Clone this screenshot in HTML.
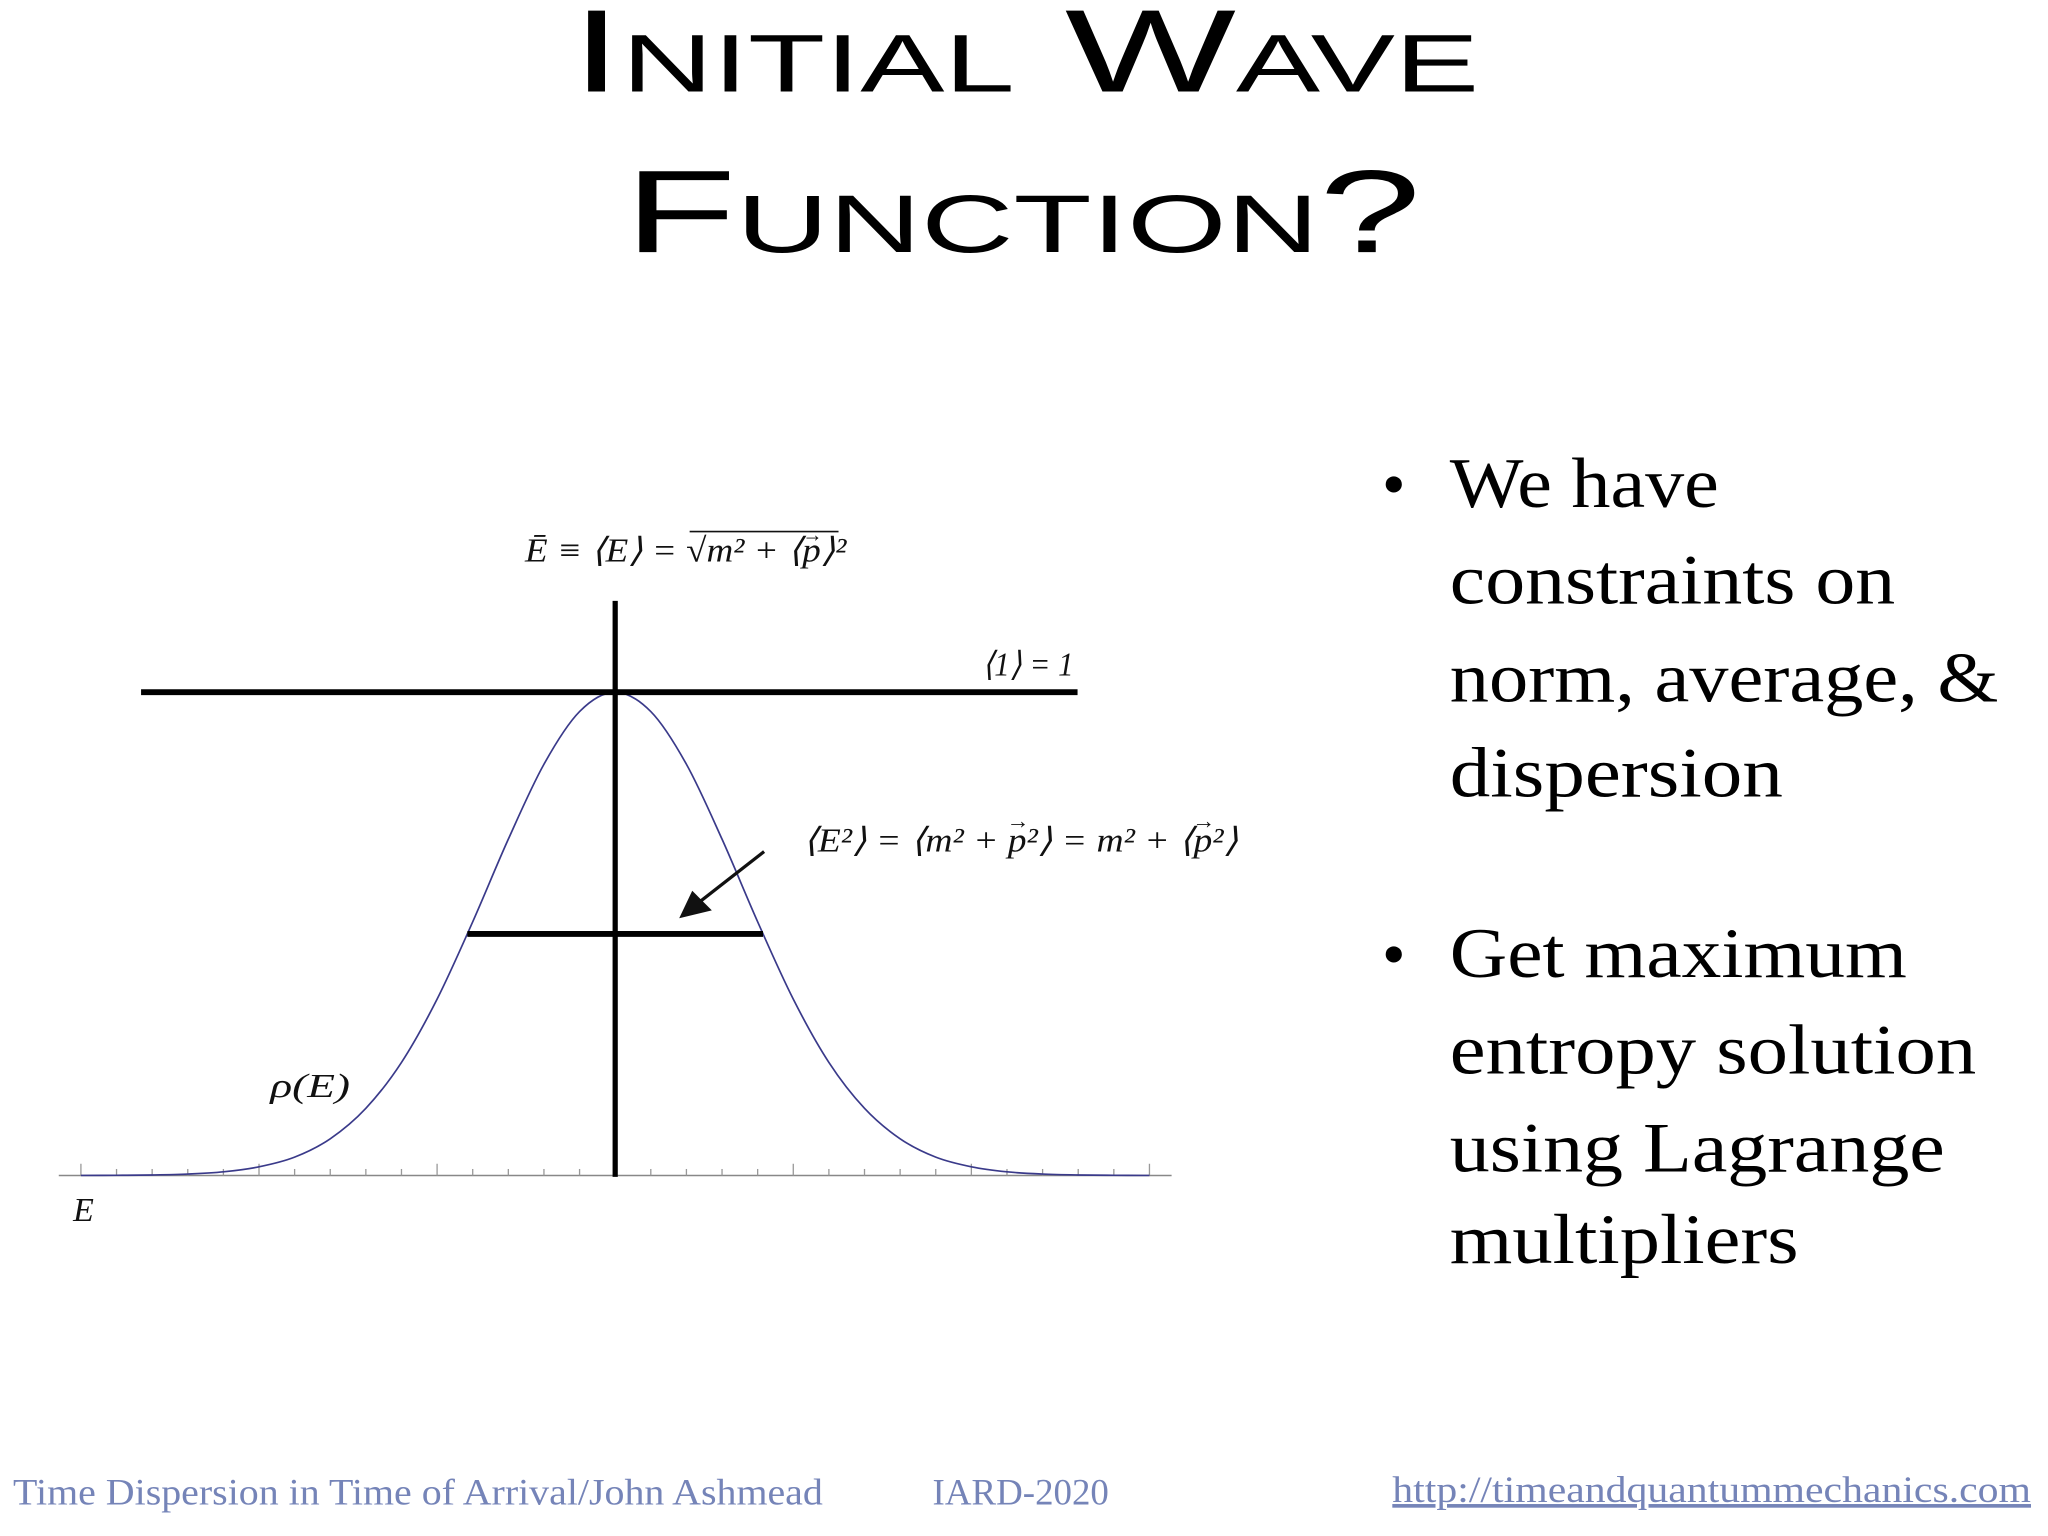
<!DOCTYPE html>
<html><head><meta charset="utf-8"><style>
html,body{margin:0;padding:0;background:#fff}
svg{display:block}
.m{font-family:"Liberation Serif",serif;font-style:italic;font-size:26px;fill:#111}
</style></head><body>
<svg width="2048" height="1536" viewBox="0 0 1568 1176" xmlns="http://www.w3.org/2000/svg">
<g font-family="'Liberation Sans',sans-serif" fill="#000" text-anchor="middle">
<text x="785" y="70" font-size="90" style="font-variant:small-caps" textLength="695" lengthAdjust="spacingAndGlyphs">Initial Wave</text>
<text x="783" y="193" font-size="90" style="font-variant:small-caps" textLength="610" lengthAdjust="spacingAndGlyphs">Function?</text>
</g>
<g id="chart"></g>
<g font-family="'Liberation Serif',serif" font-size="54" fill="#000">
<text x="1058" y="388" font-size="52">•</text>
<text x="1110" y="388" textLength="206" lengthAdjust="spacingAndGlyphs">We have</text>
<text x="1110" y="462" textLength="341" lengthAdjust="spacingAndGlyphs">constraints on</text>
<text x="1110" y="537" textLength="420" lengthAdjust="spacingAndGlyphs">norm, average, &amp;</text>
<text x="1110" y="610" textLength="255" lengthAdjust="spacingAndGlyphs">dispersion</text>
<text x="1058" y="748" font-size="52">•</text>
<text x="1110" y="748" textLength="350" lengthAdjust="spacingAndGlyphs">Get maximum</text>
<text x="1110" y="822" textLength="403" lengthAdjust="spacingAndGlyphs">entropy solution</text>
<text x="1110" y="897" textLength="379" lengthAdjust="spacingAndGlyphs">using Lagrange</text>
<text x="1110" y="967" textLength="267" lengthAdjust="spacingAndGlyphs">multipliers</text>
</g>
<g font-family="'Liberation Serif',serif" font-size="28" fill="#7584b8">
<text x="10" y="1152" textLength="620" lengthAdjust="spacingAndGlyphs">Time Dispersion in Time of Arrival/John Ashmead</text>
<text x="714" y="1152" textLength="135" lengthAdjust="spacingAndGlyphs">IARD-2020</text>
<text x="1066" y="1150" textLength="489" lengthAdjust="spacingAndGlyphs" text-decoration="underline">http://timeandquantummechanics.com</text>
</g>
</svg>
<script>
const eValues=[-15,-14,-13,-12,-11,-10,-9,-8,-7,-6,-5,-4,-3,-2,-1,0,1,2,3,4,5,6,7,8,9,10,11,12,13,14,15];
const rhoValues=[0.0001,0.0004,0.0011,0.003,0.0076,0.018,0.038,0.076,0.139,0.234,0.365,0.525,0.696,0.851,0.960,1,0.960,0.851,0.696,0.525,0.365,0.234,0.139,0.076,0.038,0.018,0.0076,0.003,0.0011,0.0004,0.0001];
const normLevel=1;
const dispersionLevel=0.5;
const dispersionHalfWidth=4.15;
const ns="http://www.w3.org/2000/svg";
const g=document.getElementById('chart');
const xs=e=>471+e*27.27;
const ys=r=>900-r*370;
function mk(t,a){const el=document.createElementNS(ns,t);for(const k in a)el.setAttribute(k,a[k]);g.appendChild(el);return el;}
let ax=mk('line',{x1:45,y1:900,x2:897,y2:900,stroke:'#888','stroke-width':1.2});


eValues.forEach(e=>{const big=e%5===0;const t=mk('line',{x1:xs(e),y1:900,x2:xs(e),y2:big?891:895,stroke:'#999','stroke-width':1});

});
const pts=eValues.map((e,i)=>[xs(e),ys(rhoValues[i])]);
let d='M'+pts[0][0]+','+pts[0][1];
for(let i=0;i<pts.length-1;i++){const p0=pts[Math.max(0,i-1)],p1=pts[i],p2=pts[i+1],p3=pts[Math.min(pts.length-1,i+2)];
d+=' C'+(p1[0]+(p2[0]-p0[0])/6)+','+(p1[1]+(p2[1]-p0[1])/6)+' '+(p2[0]-(p3[0]-p1[0])/6)+','+(p2[1]-(p3[1]-p1[1])/6)+' '+p2[0]+','+p2[1];}
let c=mk('path',{d:d,fill:'none',stroke:'#3a3a8a','stroke-width':1.3});


let v=mk('line',{x1:xs(0),y1:460,x2:xs(0),y2:901,stroke:'#000','stroke-width':4});


let h=mk('line',{x1:108,y1:ys(normLevel),x2:825,y2:ys(normLevel),stroke:'#000','stroke-width':4.5});


let h2=mk('line',{x1:xs(-dispersionHalfWidth),y1:ys(dispersionLevel),x2:xs(dispersionHalfWidth),y2:ys(dispersionLevel),stroke:'#000','stroke-width':4.5});


let ar=mk('line',{x1:585,y1:652,x2:535,y2:691,stroke:'#111','stroke-width':2.5});


let ah=mk('polygon',{points:'520,703 530,682 545,697',fill:'#111'});


function txt(x,y,s,name,size,len){const t=mk('text',{x:x,y:y,class:'m'});if(size)t.setAttribute('font-size',size);
if(len){t.setAttribute('textLength',len);t.setAttribute('lengthAdjust','spacingAndGlyphs');}
t.textContent=s;


for(let i=0;i<s.length;i++){if(s[i]==='p'){try{const p=t.getStartPositionOfChar(i),w=t.getExtentOfChar(i).width;
const a=mk('text',{x:p.x+w*0.55,y:y-(size||26)*0.55,'font-size':(size||26)*0.55,'text-anchor':'middle','font-family':'Liberation Serif,serif',fill:'#111'});a.textContent='→';

}catch(e){}}}
return t;}
txt(402,430,'Ē ≡ ⟨E⟩ = √m² + ⟨p⟩²','mean-formula',28,246);
mk('line',{x1:528,y1:407,x2:642,y2:407,stroke:'#111','stroke-width':1.2});
txt(752,517,'⟨1⟩ = 1','norm-formula',28,70);
txt(615,652,'⟨E²⟩ = ⟨m² + p²⟩ = m² + ⟨p²⟩','dispersion-formula',32,333);
txt(207,840,'ρ(E)','rho-label',34,61);
txt(56,935,'E','e-axis-label',27);
</script>
</body></html>
